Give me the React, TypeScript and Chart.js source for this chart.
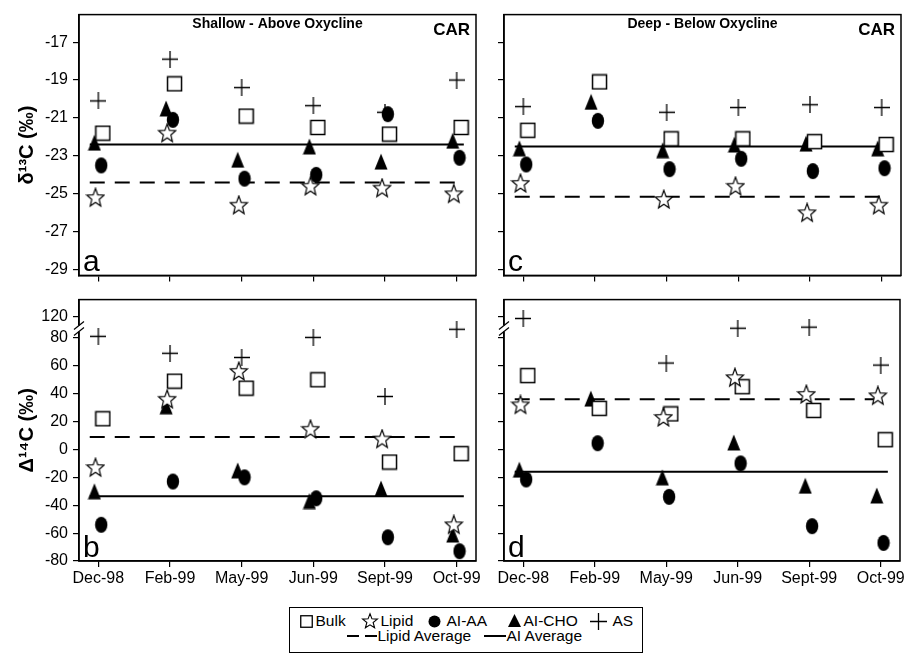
import React, { useEffect, useRef } from 'react';
import { Chart, registerables } from 'chart.js';

Chart.register(...registerables);

// ---------- data ----------
const CATEGORIES = ['Dec-98', 'Feb-99', 'May-99', 'Jun-99', 'Sept-99', 'Oct-99'];

// Panel a: δ13C, shallow (above oxycline)
const A_BULK = [-21.8, -19.2, -20.9, -21.5, -21.85, -21.5];
const A_LIPID = [-25.2, -21.8, -25.6, -24.6, -24.7, -25.0];
const A_AIAA = [-23.5, -21.1, -24.2, -24.0, -20.8, -23.1];
const A_AICHO = [-22.3, -20.5, -23.2, -22.5, -23.3, -22.2];
const A_AS = [-20.1, -17.9, -19.4, -20.35, -20.7, -19.0];
const A_LIPID_AVG = -24.4;
const A_AI_AVG = -22.4;

// Panel c: δ13C, deep (below oxycline)
const C_BULK = [-21.65, -19.1, -22.1, -22.1, -22.25, -22.4];
const C_LIPID = [-24.45, null, -25.3, -24.6, -26.0, -25.6];
const C_AIAA = [-23.45, -21.15, -23.7, -23.15, -23.8, -23.65];
const C_AICHO = [-22.6, -20.15, -22.7, -22.4, -22.35, -22.6];
const C_AS = [-20.4, null, -20.7, -20.45, -20.3, -20.45];
const C_LIPID_AVG = -25.15;
const C_AI_AVG = -22.5;

// Panel b: Δ14C, shallow
const B_BULK = [22, 49, 44, 50, -9, -3];
const B_LIPID = [-13, 36, 56, 14.5, 7.5, -54];
const B_AIAA = [-54, -23, -20, -35, -63, -73];
const B_AICHO = [-30, 31, -15, -37, -28, -61];
const B_AS = [83, 69, 66, 81, 38, 96];
const B_LIPID_AVG = 9;
const B_AI_AVG = -33.5;

// Panel d: Δ14C, deep
const D_BULK = [53, 29.5, 25.5, 45, 28, 7];
const D_LIPID = [32, null, 23, 51.5, 39.5, 38.5];
const D_AIAA = [-21.5, 4.5, -34, -10, -55, -67];
const D_AICHO = [-14.5, 36.5, -20, 5, -26, -33];
const D_AS = [116, null, 62, 98, 100, 60.5];
const D_LIPID_AVG = 36;
const D_AI_AVG = -16;

const D13C_TICKS = [-29, -27, -25, -23, -21, -19, -17];
const D14C_TICKS = [-80, -60, -40, -20, 0, 20, 40, 60, 80, 120];

// ---------- styling helpers ----------
const FONT = "'Liberation Sans', Arial, Helvetica, sans-serif";
const BREAK_AT = 80;
const BREAK_K = 0.3875;
const brk = (v: number) => (v <= BREAK_AT ? v : BREAK_AT + (v - BREAK_AT) * BREAK_K);
const unbrk = (d: number) => (d <= BREAK_AT ? d : BREAK_AT + (d - BREAK_AT) / BREAK_K);

const X_MIN = -0.27;
const X_MAX = 5.27;
const LINE_X0 = -0.12;
const LINE_X1 = 5.1;
// small horizontal jitter per series (category units), as in the original figure
const DX = { bulk: 0.063, lipid: -0.04, aiaa: 0.04, aicho: -0.055, as: 0 };

let MARKERS: Record<string, HTMLCanvasElement> | null = null;
function getMarkers() {
  if (MARKERS) return MARKERS;
  const make = (w: number, h: number, draw: (c: CanvasRenderingContext2D) => void) => {
    const c = document.createElement('canvas');
    c.width = w;
    c.height = h;
    const ctx = c.getContext('2d')!;
    ctx.strokeStyle = '#000';
    ctx.fillStyle = '#000';
    draw(ctx);
    return c;
  };
  MARKERS = {
    square: make(17, 17, (ctx) => {
      ctx.fillStyle = '#fff';
      ctx.fillRect(1.5, 1.5, 14, 14);
      ctx.lineWidth = 1.5;
      ctx.strokeRect(1.5, 1.5, 14, 14);
    }),
    star: make(20, 21, (ctx) => {
      ctx.beginPath();
      for (let i = 0; i < 10; i++) {
        const a = -Math.PI / 2 + (i * Math.PI) / 5;
        const r = i % 2 === 0 ? 9 : 3.9;
        const x = 10 + r * Math.cos(a);
        const y = 11 + r * Math.sin(a) * 1.08;
        if (i === 0) ctx.moveTo(x, y);
        else ctx.lineTo(x, y);
      }
      ctx.closePath();
      ctx.fillStyle = '#fff';
      ctx.fill();
      ctx.lineWidth = 1.2;
      ctx.stroke();
    }),
    circle: make(14, 18, (ctx) => {
      ctx.beginPath();
      ctx.ellipse(7, 9, 6.2, 8, 0, 0, Math.PI * 2);
      ctx.fill();
    }),
    triangle: make(14, 17, (ctx) => {
      ctx.beginPath();
      ctx.moveTo(7, 0.5);
      ctx.lineTo(13.5, 16.5);
      ctx.lineTo(0.5, 16.5);
      ctx.closePath();
      ctx.fill();
    }),
    plus: make(16, 17, (ctx) => {
      ctx.lineWidth = 1.3;
      ctx.beginPath();
      ctx.moveTo(0, 8.5);
      ctx.lineTo(16, 8.5);
      ctx.moveTo(8, 0);
      ctx.lineTo(8, 17);
      ctx.stroke();
    }),
  };
  return MARKERS;
}

type PanelDef = {
  key: string;
  left: number;
  top: number;
  w: number;
  h: number;
  padTop: number;
  padRight: number;
  yW: number;
  xH: number;
  yLabels: boolean;
  xLabels: boolean;
  broken: boolean;
  yTitle: string | null;
  heading: string | null;
  letter: string;
  bulk: (number | null)[];
  lipid: (number | null)[];
  aiaa: (number | null)[];
  aicho: (number | null)[];
  as: (number | null)[];
  lipidAvg: number;
  aiAvg: number;
};

const PANELS: PanelDef[] = [
  {
    key: 'a', left: 0, top: 0, w: 490, h: 290, padTop: 13, padRight: 14, yW: 79, xH: 12,
    yLabels: true, xLabels: false, broken: false, yTitle: 'δ¹³C (‰)', heading: 'Shallow - Above Oxycline', letter: 'a',
    bulk: A_BULK, lipid: A_LIPID, aiaa: A_AIAA, aicho: A_AICHO, as: A_AS, lipidAvg: A_LIPID_AVG, aiAvg: A_AI_AVG,
  },
  {
    key: 'c', left: 490, top: 0, w: 417, h: 290, padTop: 13, padRight: 6, yW: 14, xH: 12,
    yLabels: false, xLabels: false, broken: false, yTitle: null, heading: 'Deep - Below Oxycline', letter: 'c',
    bulk: C_BULK, lipid: C_LIPID, aiaa: C_AIAA, aicho: C_AICHO, as: C_AS, lipidAvg: C_LIPID_AVG, aiAvg: C_AI_AVG,
  },
  {
    key: 'b', left: 0, top: 285, w: 490, h: 305, padTop: 10, padRight: 14, yW: 79, xH: 29,
    yLabels: true, xLabels: true, broken: true, yTitle: 'Δ¹⁴C (‰)', heading: null, letter: 'b',
    bulk: B_BULK, lipid: B_LIPID, aiaa: B_AIAA, aicho: B_AICHO, as: B_AS, lipidAvg: B_LIPID_AVG, aiAvg: B_AI_AVG,
  },
  {
    key: 'd', left: 490, top: 285, w: 417, h: 305, padTop: 10, padRight: 6, yW: 14, xH: 29,
    yLabels: false, xLabels: true, broken: true, yTitle: null, heading: null, letter: 'd',
    bulk: D_BULK, lipid: D_LIPID, aiaa: D_AIAA, aicho: D_AICHO, as: D_AS, lipidAvg: D_LIPID_AVG, aiAvg: D_AI_AVG,
  },
];

function buildConfig(p: PanelDef): any {
  const M = getMarkers();
  const tf = p.broken ? brk : (v: number) => v;
  const pts = (arr: (number | null)[], dx: number) =>
    arr
      .map((v, i) => (v == null ? null : { x: i + dx, y: tf(v) }))
      .filter((q) => q !== null);
  const scatter = (label: string, arr: (number | null)[], marker: string, dx: number, order: number) => ({
    type: 'scatter',
    label,
    data: pts(arr, dx),
    pointStyle: M[marker],
    pointRadius: 8,
    showLine: false,
    order,
  });
  const avgLine = (label: string, val: number, dash: number[], order: number) => ({
    type: 'line',
    label,
    data: [
      { x: LINE_X0, y: tf(val) },
      { x: LINE_X1, y: tf(val) },
    ],
    borderColor: '#000',
    borderWidth: 2,
    borderDash: dash,
    pointRadius: 0,
    fill: false,
    order,
  });

  const decor = {
    id: 'decor_' + p.key,
    afterDraw(chart: any) {
      const { ctx, chartArea: a } = chart;
      ctx.save();
      ctx.strokeStyle = '#000';
      ctx.lineWidth = 1.5;
      ctx.strokeRect(a.left, a.top, a.right - a.left, a.bottom - a.top);
      ctx.fillStyle = '#000';
      if (p.heading) {
        ctx.font = `bold 14px ${FONT}`;
        ctx.textAlign = 'center';
        ctx.textBaseline = 'middle';
        ctx.fillText(p.heading, (a.left + a.right) / 2, a.top + 10);
        ctx.font = `bold 17px ${FONT}`;
        ctx.textAlign = 'right';
        ctx.textBaseline = 'alphabetic';
        ctx.fillText('CAR', a.right - 6, a.top + 20);
      }
      ctx.font = `30px ${FONT}`;
      ctx.textAlign = 'left';
      ctx.textBaseline = 'alphabetic';
      ctx.fillText(p.letter, a.left + 4, a.bottom - 4);
      if (p.broken) {
        const ys = chart.scales.y;
        const yb = ys.getPixelForValue((BREAK_AT + brk(120)) / 2 - 1);
        const x = a.left;
        ctx.fillStyle = '#fff';
        ctx.fillRect(x - 2, yb - 3, 4, 6);
        ctx.lineWidth = 1.2;
        ctx.beginPath();
        for (const dy of [-3, 3]) {
          ctx.moveTo(x - 5, yb + dy + 4);
          ctx.lineTo(x + 5, yb + dy - 4);
        }
        ctx.stroke();
      }
      ctx.restore();
    },
  };

  const yTicks = p.broken ? D14C_TICKS.map(brk) : D13C_TICKS;

  return {
    type: 'scatter',
    data: {
      datasets: [
        scatter('AS', p.as, 'plus', DX.as, 1),
        scatter('Lipid', p.lipid, 'star', DX.lipid, 2),
        scatter('Bulk', p.bulk, 'square', DX.bulk, 3),
        scatter('AI-AA', p.aiaa, 'circle', DX.aiaa, 4),
        scatter('AI-CHO', p.aicho, 'triangle', DX.aicho, 5),
        avgLine('Lipid Average', p.lipidAvg, [15, 10], 6),
        avgLine('AI Average', p.aiAvg, [], 6),
      ],
    },
    plugins: [decor],
    options: {
      animation: false,
      responsive: false,
      maintainAspectRatio: false,
      events: [],
      layout: { padding: { left: 0, top: p.padTop, right: p.padRight, bottom: 0 }, autoPadding: false },
      plugins: { legend: { display: false }, tooltip: { enabled: false } },
      scales: {
        x: {
          type: 'linear',
          position: 'bottom',
          min: X_MIN,
          max: X_MAX,
          afterBuildTicks: (s: any) => {
            s.ticks = CATEGORIES.map((_, i) => ({ value: i }));
          },
          afterFit: (s: any) => {
            s.height = p.xH;
          },
          ticks: {
            autoSkip: false,
            maxRotation: 0,
            padding: 2,
            color: '#000',
            font: { family: FONT, size: 16 },
            callback: (v: number) => (p.xLabels ? CATEGORIES[Math.round(v)] ?? '' : ''),
          },
          grid: { display: true, drawOnChartArea: false, drawTicks: true, tickLength: 6, color: '#000', lineWidth: 1.2 },
          border: { display: true, color: '#000', width: 1.5 },
        },
        y: {
          type: 'linear',
          position: 'left',
          min: p.broken ? -80 : -29.3,
          max: p.broken ? 107.5 : -15.55,
          afterBuildTicks: (s: any) => {
            s.ticks = yTicks.map((v) => ({ value: v }));
          },
          afterFit: (s: any) => {
            s.width = p.yW;
          },
          ticks: {
            autoSkip: false,
            padding: 5,
            color: '#000',
            font: { family: FONT, size: 16 },
            callback: (v: number) => (p.yLabels ? String(Math.round(p.broken ? unbrk(v) : v)) : ''),
          },
          grid: { display: true, drawOnChartArea: false, drawTicks: true, tickLength: 6, color: '#000', lineWidth: 1.2 },
          border: { display: true, color: '#000', width: 1.5 },
          title: {
            display: !!p.yTitle,
            text: p.yTitle || '',
            color: '#000',
            font: { family: FONT, size: 20, weight: 'bold' },
            padding: { top: 15, bottom: 0 },
          },
        },
      },
    },
  };
}

function Panel({ p }: { p: PanelDef }) {
  const ref = useRef<HTMLCanvasElement>(null);
  useEffect(() => {
    if (!ref.current) return;
    const chart = new Chart(ref.current, buildConfig(p));
    return () => chart.destroy();
  }, [p]);
  return (
    <canvas
      ref={ref}
      width={p.w}
      height={p.h}
      style={{ position: 'absolute', left: p.left, top: p.top, width: p.w, height: p.h }}
    />
  );
}

function Icon({ kind, left, top }: { kind: string; left: number; top: number }) {
  const st: React.CSSProperties = { position: 'absolute', left, top, overflow: 'visible' };
  if (kind === 'square')
    return (
      <svg width={13} height={13} style={st}>
        <rect x={0.75} y={0.75} width={11.5} height={11.5} fill="#fff" stroke="#000" strokeWidth={1.3} />
      </svg>
    );
  if (kind === 'star') {
    const pts: string[] = [];
    for (let i = 0; i < 10; i++) {
      const a = -Math.PI / 2 + (i * Math.PI) / 5;
      const r = i % 2 === 0 ? 7.8 : 3.3;
      pts.push(`${8 + r * Math.cos(a)},${8.5 + r * Math.sin(a)}`);
    }
    return (
      <svg width={16} height={16} style={st}>
        <polygon points={pts.join(' ')} fill="#fff" stroke="#000" strokeWidth={1.1} />
      </svg>
    );
  }
  if (kind === 'circle')
    return (
      <svg width={13} height={13} style={st}>
        <circle cx={6.5} cy={6.5} r={6} fill="#000" />
      </svg>
    );
  if (kind === 'triangle')
    return (
      <svg width={13} height={13} style={st}>
        <polygon points="6.5,0 13,13 0,13" fill="#000" />
      </svg>
    );
  if (kind === 'plus')
    return (
      <svg width={17} height={17} style={st}>
        <path d="M0 8.5 H17 M8.5 0 V17" stroke="#000" strokeWidth={1.3} />
      </svg>
    );
  if (kind === 'dash')
    return (
      <svg width={30} height={4} style={st}>
        <path d="M0 2 H12 M18 2 H30" stroke="#000" strokeWidth={2} />
      </svg>
    );
  return (
    <svg width={22} height={4} style={st}>
      <path d="M0 2 H22" stroke="#000" strokeWidth={2} />
    </svg>
  );
}

const LEGEND_ITEMS = [
  { kind: 'square', ix: 11, iy: 8, tx: 27, row: 0, text: 'Bulk' },
  { kind: 'star', ix: 73, iy: 6, tx: 92, row: 0, text: 'Lipid' },
  { kind: 'circle', ix: 139, iy: 8, tx: 158, row: 0, text: 'AI-AA' },
  { kind: 'triangle', ix: 219, iy: 7, tx: 235, row: 0, text: 'AI-CHO' },
  { kind: 'plus', ix: 301, iy: 6, tx: 324, row: 0, text: 'AS' },
  { kind: 'dash', ix: 58, iy: 27, tx: 89, row: 1, text: 'Lipid Average' },
  { kind: 'solid', ix: 195, iy: 27, tx: 218, row: 1, text: 'AI Average' },
];

function Legend() {
  const rowsY = [14, 29];
  return (
    <div
      style={{
        position: 'absolute',
        left: 289,
        top: 607,
        width: 354,
        height: 46,
        border: '1.5px solid #000',
        boxSizing: 'border-box',
        background: '#fff',
        fontFamily: FONT,
        fontSize: 15.5,
        color: '#000',
      }}
    >
      {LEGEND_ITEMS.map((it) => (
        <React.Fragment key={it.text}>
          <Icon kind={it.kind} left={it.ix - 1.5} top={it.iy - 1.5} />
          <span
            style={{
              position: 'absolute',
              left: it.tx - 1.5,
              top: rowsY[it.row] - 9 - 1.5,
              lineHeight: '18px',
              whiteSpace: 'nowrap',
            }}
          >
            {it.text}
          </span>
        </React.Fragment>
      ))}
    </div>
  );
}

export default function App() {
  return (
    <div
      style={{
        position: 'absolute',
        left: 0,
        top: 0,
        width: 907,
        height: 654,
        background: '#fff',
        overflow: 'hidden',
      }}
    >
      {PANELS.map((p) => (
        <Panel key={p.key} p={p} />
      ))}
      <Legend />
    </div>
  );
}
